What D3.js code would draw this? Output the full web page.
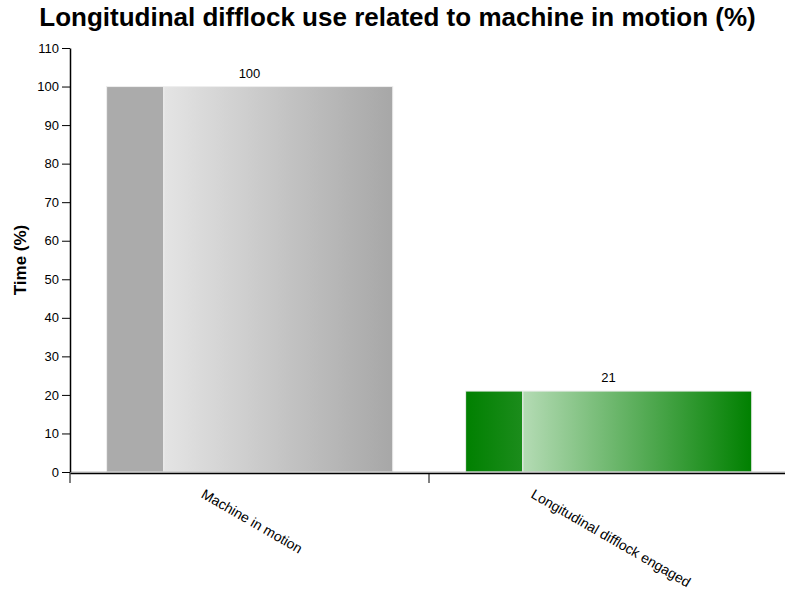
<!DOCTYPE html>
<html>
<head>
<meta charset="utf-8">
<script src="https://cdn.jsdelivr.net/npm/d3@7"></script>
<style>
	body { margin: 0; background: #fff; }
	svg { font-family: "Liberation Sans", Arial, sans-serif; }
	.yAxis text { font-size: 13px; fill: #000; }
	.xAxis text { font-size: 14px; fill: #000; }
</style>
</head>
<body>
<div id="chart"></div>
<script>
// chart data
const categories = ["Machine in motion", "Longitudinal difflock engaged"];
const values = [100, 21];
const yTicks = [0, 10, 20, 30, 40, 50, 60, 70, 80, 90, 100, 110];
const title = "Longitudinal difflock use related to machine in motion (%)";
const yLabel = "Time (%)";

// colours per bar: [strip start, strip end, body start, body end]
const barPalette = [
	["#ababab", "#ababab", "#e4e4e4", "#a7a7a7"],
	["#008000", "#1c8c1c", "#b4dbb4", "#008000"]
];

const margin = {top: 48, right: 0, bottom: 118, left: 70};
const width = 785, height = 590;

function buildBarChart(parentID){

	const plotW = 718;
	const plotH = height - margin.top - margin.bottom;

	let svg = d3.select(`#${parentID}`).append("svg")
		.attr("width", width)
		.attr("height", height);

	let defs = svg.append("defs");
	barPalette.forEach((p, i) => {
		[["strip", p[0], p[1]], ["body", p[2], p[3]]].forEach(([name, c0, c1]) => {
			let grad = defs.append("linearGradient")
				.attr("id", `${name}${i}`)
				.attr("x1", "0%").attr("x2", "100%")
				.attr("y1", "0%").attr("y2", "0%");
			grad.append("stop").attr("offset", "0%").attr("stop-color", c0);
			grad.append("stop").attr("offset", "100%").attr("stop-color", c1);
		});
	});

	//title
	svg.append("text")
		.attr("x", 397.5)
		.attr("y", 26)
		.attr("text-anchor", "middle")
		.style("font-size", "26px")
		.style("font-weight", "bold")
		.text(title);

	let g = svg.append("g")
		.attr("transform", `translate(${margin.left},${margin.top})`);

	//scales
	let xScale = d3.scaleBand()
		.domain(categories)
		.range([0, plotW])
		.padding(0);

	let yScale = d3.scaleLinear()
		.domain([0, 110])
		.range([plotH, 0]);

	const bw = xScale.bandwidth();
	const barOffset = bw * 0.102;
	const barW = bw * 0.797;
	const stripW = barW * 0.2;

	//bars
	let bars = g.selectAll(".bar")
		.data(values)
		.join("g")
		.attr("class", "bar");

	bars.append("rect")
		.attr("x", (d, i) => xScale(categories[i]) + barOffset)
		.attr("y", d => yScale(d))
		.attr("width", stripW)
		.attr("height", d => yScale(0) - yScale(d))
		.attr("fill", (d, i) => `url(#strip${i})`)
		.attr("stroke", "#eeeeee")
		.attr("stroke-width", 1);

	bars.append("rect")
		.attr("x", (d, i) => xScale(categories[i]) + barOffset + stripW)
		.attr("y", d => yScale(d))
		.attr("width", barW - stripW)
		.attr("height", d => yScale(0) - yScale(d))
		.attr("fill", (d, i) => `url(#body${i})`)
		.attr("stroke", "#eeeeee")
		.attr("stroke-width", 1);

	bars.append("text")
		.attr("x", (d, i) => xScale(categories[i]) + bw / 2)
		.attr("y", d => yScale(d) - 9)
		.attr("text-anchor", "middle")
		.style("font-size", "13px")
		.text(d => d);

	//zero baseline
	g.append("line")
		.attr("x1", 0).attr("x2", plotW)
		.attr("y1", yScale(0)).attr("y2", yScale(0))
		.attr("stroke", "#bbbbbb");

	//axes
	let yAxis = g.append("g")
		.attr("class", "yAxis")
		.call(d3.axisLeft(yScale).tickValues(yTicks).tickSize(8).tickSizeOuter(0));
	yAxis.select(".domain").attr("stroke-width", 1.5);

	let xAxis = g.append("g")
		.attr("class", "xAxis")
		.attr("transform", `translate(0,${plotH + 1})`)
		.call(d3.axisBottom(xScale).tickSize(10).tickSizeOuter(0));
	xAxis.select(".domain").attr("stroke-width", 1.5);

	// ticks sit on band starts, labels slant from the band centre
	xAxis.selectAll(".tick")
		.attr("transform", d => `translate(${xScale(d)},0)`);

	const ang = 30;
	xAxis.selectAll(".tick text").each(function(){
		let t = d3.select(this);
		let len = this.getComputedTextLength();
		let tx = bw / 2 - (len / 2) * Math.cos(ang * Math.PI / 180);
		let ty = 24;
		t.attr("text-anchor", "start")
			.attr("dy", null)
			.attr("x", tx)
			.attr("y", ty)
			.attr("transform", `rotate(${ang},${tx},${ty})`);
	});

	//y label
	svg.append("text")
		.attr("transform", `translate(26,${margin.top + plotH / 2}) rotate(-90)`)
		.attr("text-anchor", "middle")
		.style("font-size", "17px")
		.style("font-weight", "bold")
		.text(yLabel);
}

buildBarChart("chart");
</script>
</body>
</html>
